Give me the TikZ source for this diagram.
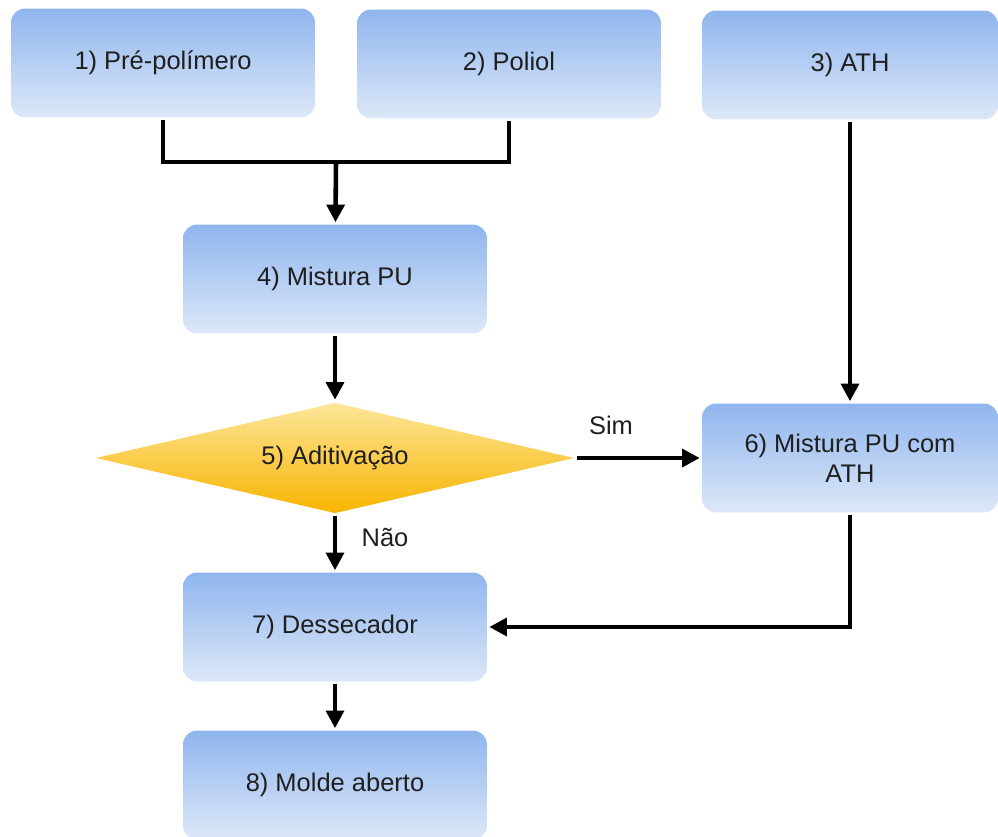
\documentclass[tikz,border=0pt]{standalone}
\usepackage{fontspec}
\setmainfont{Liberation Sans}
\usetikzlibrary{arrows.meta,shapes.geometric}
\definecolor{boxtop}{HTML}{8FB5EE}
\definecolor{boxbot}{HTML}{DDE8F8}
\definecolor{dectop}{HTML}{FDE69A}
\definecolor{decbot}{HTML}{F8B400}
\begin{document}
\begin{tikzpicture}[x=0.02cm,y=-0.02cm,line width=2.6pt,align=center,
    every node/.style={font=\fontsize{14.5}{17}\selectfont,text=black!88},
    stepbox/.style={rounded corners=8pt,top color=boxtop,bottom color=boxbot,draw=none,
        minimum width=6.08cm,minimum height=2.18cm},
    decision/.style={diamond,aspect=4.3,inner sep=0pt,top color=dectop,bottom color=decbot,draw=none,
        minimum width=9.6cm,minimum height=2.24cm},
    ->/.style={-{Triangle[length=10pt,width=10pt]}}]
    \useasboundingbox (0,0) rectangle (998,836);
    \node[stepbox] (1) at (163,63) {1) Pré-polímero};
    \node[stepbox] (2) at (509,64) {2) Poliol};
    \node[stepbox,minimum width=5.92cm] (3) at (850,65) {3) ATH};
    \node[stepbox] (4) at (335,279) {4) Mistura PU};
    \node[decision] (5) at (335,458) {5) Aditivação};
    \node[stepbox,minimum width=5.92cm] (6) at (850,458) {6) Mistura PU com\\ATH};
    \node[stepbox] (7) at (335,627) {7) Dessecador};
    \node[stepbox] (8) at (335,785) {8) Molde aberto};
    \node (sim) at (611,425) {Sim};
    \node (nao) at (385,537) {Não};
    \coordinate (m) at (336,162);
    % ligacoes
    \draw (1.south) |- (m) -| (2.south);
    \draw[->] (m) -- (4);
    \draw[->] (3) -- (6);
    \draw[->] (4) -- (5);
    \draw[->] (5.east) -- (6.west);
    \draw[->] (5) -- (7);
    \draw[->] (6.south) |- (7.east);
    \draw[->] (7) -- (8);
\end{tikzpicture}
\end{document}
